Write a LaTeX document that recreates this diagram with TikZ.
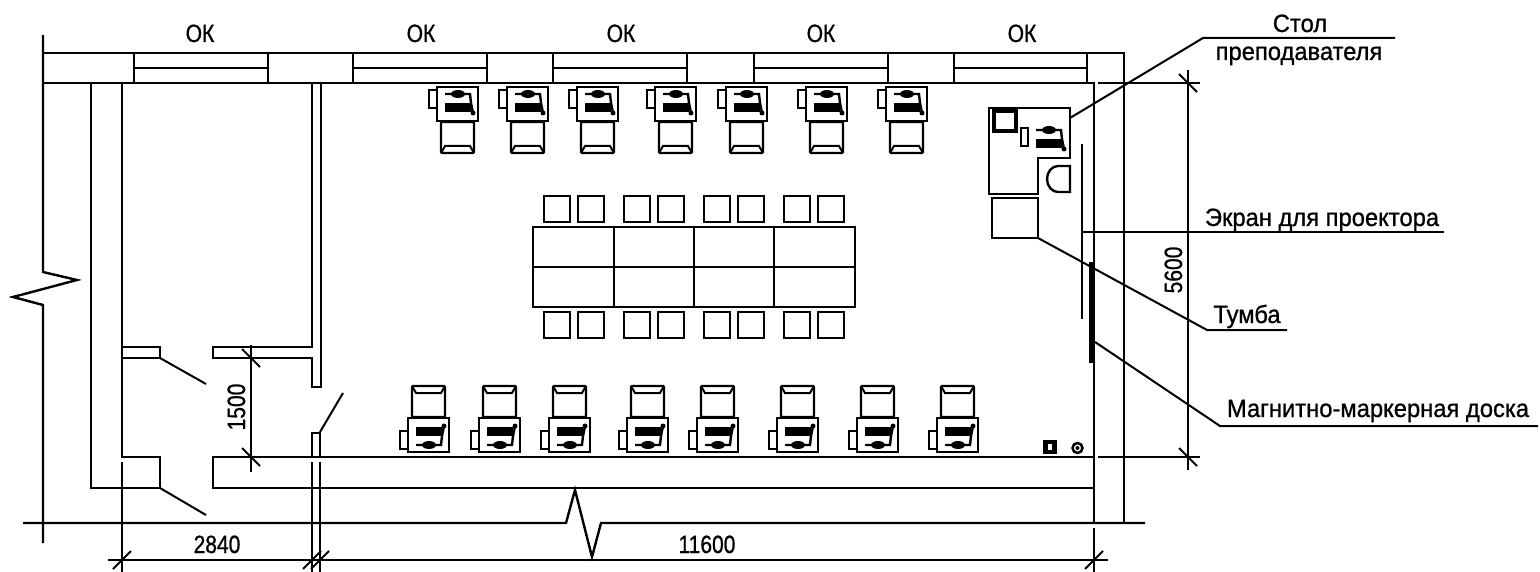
\documentclass[tikz,border=0pt]{standalone}
\usepackage{fontspec}
\setmainfont{Liberation Sans}
\newfontfamily\gostfont[FakeStretch=0.95,FakeBold=0.9]{Liberation Sans}
\newfontfamily\gostnum[FakeStretch=0.84,FakeBold=0.9]{Liberation Sans}
\usepackage{tikz}

\newcommand{\tickh}[1]{\draw[thin line] (#1)+(-9,9) -- +(9,-9);}
\newcommand{\tickv}[1]{\draw[thin line] (#1)+(-9,-9) -- +(9,9);}
\newcommand{\phoneset}{
	\draw[line width=2.4pt] (8,7) -- (33,7) -- (34,16) -- (36,26);
	\fill (21,7) ellipse (7 and 4);
	\fill (8,16) rectangle (34,25);
	\fill (36,26) circle (2.5);
}

\tikzset{
	wall/.style={line width=2.4pt},
	thin line/.style={line width=2pt},
	lbl/.style={font=\gostfont\fontsize{25}{25}\selectfont,inner sep=0pt,anchor=base},
	num/.style={font=\gostnum\fontsize{25}{25}\selectfont,inner sep=0pt,anchor=base},
	workplace/.pic={
		\draw[wall] (0,0) rectangle (41,34);
		\draw[wall] (-8,3) rectangle (0,21);
		\draw[wall,rounded corners=1pt] (4,35) rectangle (37,66);
		\draw[thin line] (4,66) -- (8,59) -- (33,59) -- (37,66);
		\phoneset
	}
}

\begin{document}
\begin{tikzpicture}[x=1pt,y=-1pt]
	\useasboundingbox (0,0) rectangle (1540,572);

	% outer walls
	\draw[wall] (43,35) -- (43,272) -- (77,280) -- (13,297) -- (43,305) -- (43,543);
	\draw[wall] (43,53) -- (1124,53) -- (1124,523);
	\draw[wall] (43,83) -- (1094,83) -- (1094,523);
	\draw[wall] (23,523) -- (566,523) -- (575,490) -- (592,557) -- (601,523) -- (1145,523);

	% windows
	\foreach \xa/\xb in {134/268,353/487,553/687,754/888,954/1087} {
		\draw[wall] (\xa,53) -- (\xa,83);
		\draw[wall] (\xb,53) -- (\xb,83);
		\draw[thin line] (\xa,68) -- (\xb,68);
	}

	% partitions and doors
	\draw[wall] (91,83) -- (91,488) -- (160,488) -- (160,457) -- (122,457) -- (122,83);
	\draw[wall] (122,347) -- (160,347) -- (160,358) -- (122,358);
	\draw[thin line] (160,358) -- (206,384);
	\draw[thin line] (160,488) -- (206,515);
	\draw[wall] (312,83) -- (312,347) -- (213,347) -- (213,358) -- (312,358) -- (312,387) -- (321,387) -- (321,83);
	\draw[wall] (312,457) -- (312,433) -- (320,433) -- (320,457);
	\draw[thin line] (320,432) -- (343,393);
	\draw[wall] (1094,457) -- (213,457) -- (213,488) -- (1094,488);

	% workplaces
	\foreach \x in {437,507,577,655,726,806,886}
		\pic at (\x,87) {workplace};
	\foreach \x in {408,479,549,627,697,777,857,937}
		\pic[yscale=-1] at (\x,452) {workplace};

	% big table with chairs
	\draw[wall] (533,227) rectangle (855,307);
	\draw[wall] (533,267) -- (855,267);
	\foreach \x in {614,694,774}
		\draw[wall] (\x,227) -- (\x,307);
	\foreach \x in {544,578,624,658,704,738,784,818} {
		\draw[wall] (\x,196) rectangle +(26,26);
		\draw[wall] (\x,312) rectangle +(26,26);
	}

	% teacher desk
	\draw[wall] (989,108) -- (1070,108) -- (1070,158) -- (1038,158) -- (1038,194) -- (989,194) -- cycle;
	\draw[line width=3.5pt] (994,111) rectangle (1016,131);
	\draw[thin line] (1021,128) rectangle (1028,146);
	\begin{scope}[shift={(1028,123)}]
		\phoneset
	\end{scope}
	\draw[wall] (1070,166) -- (1058,166) arc (270:90:11 and 13) -- (1070,192) -- cycle;
	\draw[wall] (992,198) rectangle (1038,238);

	% screen, board, sockets
	\draw[thin line] (1082,144) -- (1082,319);
	\draw[line width=5pt] (1091,262) -- (1091,363);
	\fill (1043,440) rectangle (1057,454);
	\fill[white] (1048,444) rectangle (1052,450);
	\draw[line width=2.5pt] (1077.5,448) circle (5);
	\fill (1077.5,448) circle (2);

	% leaders
	\node[lbl] (stol) at (1300,32) {Стол};
	\node[lbl] (prep) at (1299,60) {преподавателя};
	\node[lbl] (ekran) at (1322,226) {Экран для проектора};
	\node[lbl] (tumba) at (1247,323) {Тумба};
	\node[lbl] (doska) at (1378,417) {Магнитно-маркерная доска};
	\draw[thin line] (1070,118) -- (1203,38) -- (1395,38);
	\draw[thin line] (1082,232) -- (1444,232);
	\draw[thin line] (1038,238) -- (1207,330) -- (1287,330);
	\draw[thin line] (1095,342) -- (1220,426) -- (1538,426);

	% window labels
	\node[num] (ok1) at (200,42) {ОК};
	\node[num] (ok2) at (421,42) {ОК};
	\node[num] (ok3) at (621,42) {ОК};
	\node[num] (ok4) at (821,42) {ОК};
	\node[num] (ok5) at (1022,42) {ОК};

	% dimensions
	\draw[thin line] (108,560) -- (1108,560);
	\draw[thin line] (122,462) -- (122,572);
	\draw[thin line] (312,462) -- (312,572);
	\draw[thin line] (320,462) -- (320,572);
	\draw[thin line] (1094,528) -- (1094,572);
	\tickh{122,560} \tickh{312,560} \tickh{320,560} \tickh{1094,560}
	\node[num] (d2840) at (217,553) {2840};
	\node[num] (d11600) at (707,553) {11600};

	\draw[thin line] (251,345) -- (251,472);
	\tickv{251,358} \tickv{251,457}
	\node[num,rotate=90] (d1500) at (245,407) {1500};

	\draw[thin line] (1098,83) -- (1200,83);
	\draw[thin line] (1098,457) -- (1200,457);
	\draw[thin line] (1188,70) -- (1188,470);
	\tickv{1188,83} \tickv{1188,457}
	\node[num,rotate=90] (d5600) at (1182,270) {5600};
\end{tikzpicture}
\end{document}
